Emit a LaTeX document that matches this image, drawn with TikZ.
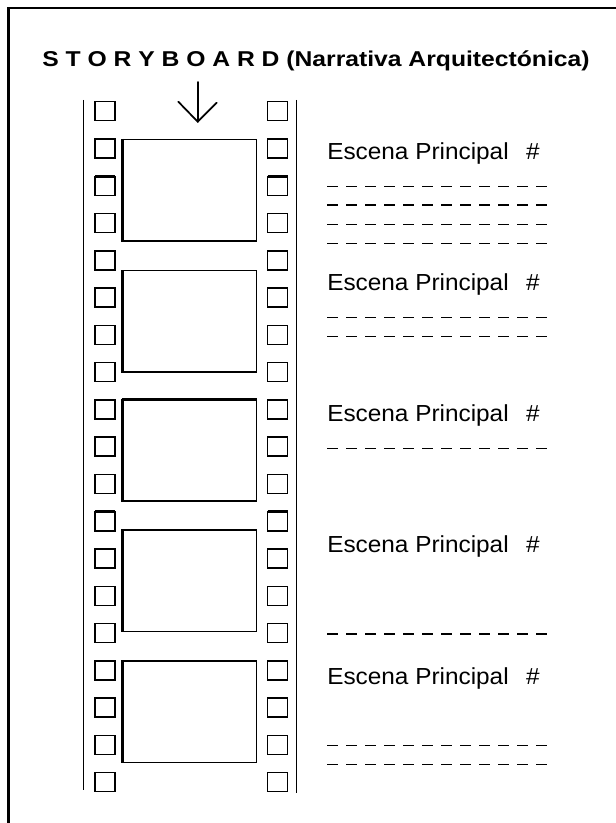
\documentclass[tikz,border=0pt]{standalone}
\usepackage{fontspec}
\newfontfamily\titlefont[FakeStretch=1.15]{Liberation Sans}
\newfontfamily\scenefont[FakeStretch=1.05]{Liberation Sans}
\tikzset{
  filmline/.style={line width=1.1pt, black},
  holebox/.style={line width=1.1pt, black},
  framebox/.style={line width=1.1pt, black},
  dashrow/.style={line width=1.1pt, black, dash pattern=on 7.9pt off 6.35pt},
  titletext/.style={inner sep=0pt, font=\titlefont\bfseries\fontsize{16.1}{19}\selectfont},
  scenetext/.style={inner sep=0pt, font=\scenefont\fontsize{17.4}{20}\selectfont},
  arrowline/.style={line width=1.3pt, black, line cap=round, line join=miter}
}
\begin{document}
\begin{tikzpicture}[x=0.75pt,y=-0.75pt]
\useasboundingbox (0,0) rectangle (615,823);
\fill[white] (0,0) rectangle (615,823);
% outer border (top and left)
\draw[line width=1.6pt] (8.5,830) -- (8.5,8) -- (625,8);
% title
\node[titletext, anchor=base west] (title) at (42,67) {S T O R Y B O A R D (Narrativa Arquitectónica)};
% arrow
\coordinate (atop) at (197.7,82);
\coordinate (atip) at (197.7,121.7);
\coordinate (aleft) at (178.3,101.7);
\coordinate (aright) at (216.7,102.7);
\draw[arrowline] (atop) -- (atip);
\draw[arrowline] (aleft) -- (atip) -- (aright);
% film edges
\draw[filmline] (83.5,100) -- (83.5,790);
\draw[filmline] (296.7,100) -- (296.7,793);
% sprocket holes
\foreach \k in {0,...,18} {
  \pgfmathsetmacro\yy{101.7+37.28*\k}
  \draw[holebox] (95,\yy) rectangle (115,\yy+19);
  \draw[holebox] (267.7,\yy) rectangle (287.7,\yy+19);
}
\foreach \k in {2,5,8,11} {
  \pgfmathsetmacro\yy{101.7+37.28*\k}
  \draw[line width=2pt] (95,\yy) -- (115,\yy);
  \draw[line width=2pt] (267.7,\yy) -- (287.7,\yy);
}
% frames
\foreach \t in {139.3,270.7,399.3,530,661} {
  \draw[framebox] (121.7,\t) rectangle (256.7,\t+101.5);
  \draw[line width=2.2pt] (122.6,\t-0.5) -- (122.6,\t+102);
}
\draw[line width=2pt] (121.7,399.3) -- (256.7,399.3);
% scene labels
\node[scenetext, anchor=base west] (s1) at (327,159.7) {Escena Principal\hspace{13pt}\#};
\node[scenetext, anchor=base west] (s2) at (327,290.3) {Escena Principal\hspace{13pt}\#};
\node[scenetext, anchor=base west] (s3) at (327,421.3) {Escena Principal\hspace{13pt}\#};
\node[scenetext, anchor=base west] (s4) at (327,552) {Escena Principal\hspace{13pt}\#};
\node[scenetext, anchor=base west] (s5) at (327,684) {Escena Principal\hspace{13pt}\#};
% dashed writing lines
\foreach \y in {186.7,205,224.3,243.3,317.3,336.7,448.3,634,745.7,764.3} {
  \draw[dashrow] (327,\y) -- (546.5,\y);
}
\end{tikzpicture}
\end{document}
